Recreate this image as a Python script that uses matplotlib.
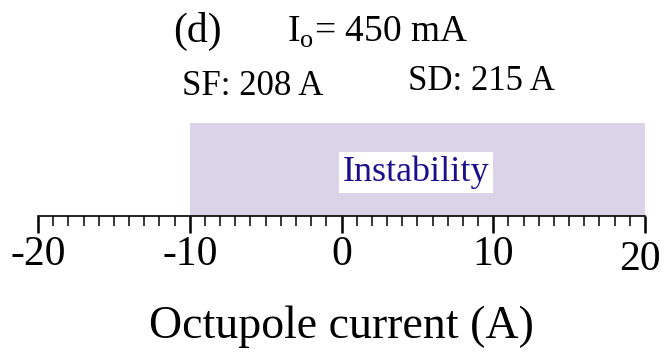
import matplotlib
matplotlib.use("Agg")
import matplotlib.pyplot as plt
import matplotlib.transforms as mtransforms
from matplotlib.ticker import MultipleLocator

plt.rcParams['font.family'] = ['Liberation Serif', 'DejaVu Serif']
plt.rcParams['mathtext.fontset'] = 'custom'
plt.rcParams['mathtext.rm'] = 'Liberation Serif'

# octupole current range and region where the beam goes unstable
x_range = [-20, 20]
unstable = [-10, 20]
major_ticks = [-20, -10, 0, 10, 20]
tick_labels = ['-20', '-10', '0', '10', '20']

fig = plt.figure(figsize=(6.68, 3.58), dpi=100)
ax = fig.add_axes([0.0569, 0.3966, 0.9087, 0.2598])

ax.axvspan(unstable[0], unstable[1], color='#dbd3e8', lw=0)
ax.text(4.9, 0.47, 'Instability', color='#1c0f8c', fontsize=26,
        ha='center', va='center',
        bbox=dict(facecolor='white', edgecolor='none', pad=2.5))

ax.set_xlim(x_range)
ax.set_ylim(0, 1)
ax.set_yticks([])
for s in ['left', 'right', 'top']:
    ax.spines[s].set_visible(False)
ax.spines['bottom'].set_linewidth(1.2)

ax.set_xticks(major_ticks)
ax.set_xticklabels(tick_labels)
ax.xaxis.set_minor_locator(MultipleLocator(1))
ax.tick_params(axis='x', which='major', length=12, width=1.8, pad=2, labelsize=30)
ax.tick_params(axis='x', which='minor', length=7, width=1.1)

# last label sits a bit left and low
lab = ax.xaxis.get_major_ticks()[-1].label1
lab.set_transform(lab.get_transform() +
                  mtransforms.ScaledTranslation(-5 / 100, -5 / 100, fig.dpi_scale_trans))

ax.set_xlabel('Octupole current (A)', fontsize=33, labelpad=19)

fig.text(0.259, 0.883, '(d)', fontsize=30)
fig.text(0.430, 0.883, r'I$_\mathrm{o}$= 450 mA', fontsize=27)
fig.text(0.272, 0.735, 'SF: 208 A', fontsize=25)
fig.text(0.611, 0.750, 'SD: 215 A', fontsize=25)

fig.savefig('out.png', dpi=100)
